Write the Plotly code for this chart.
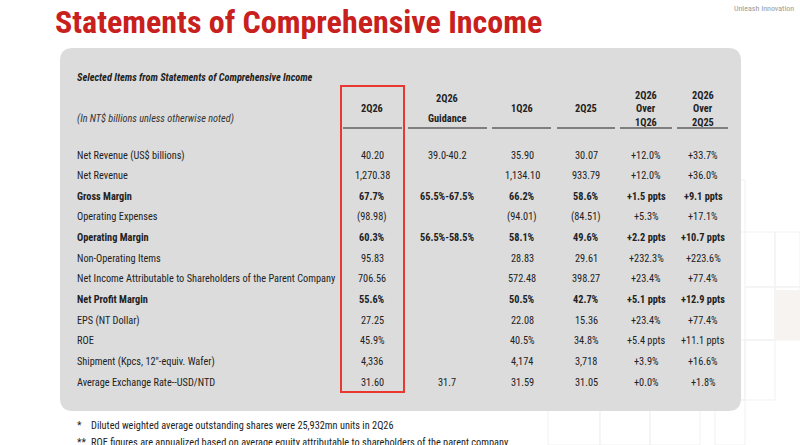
import plotly.graph_objects as go

# ---------------- data ----------------
title = "Statements of Comprehensive Income"
subtitle = "Selected Items from Statements of Comprehensive Income"
unit_note = "(In NT$ billions unless otherwise noted)"
brand = "Unleash Innovation"

col_headers = [["2Q26"], ["2Q26", "Guidance"], ["1Q26"], ["2Q25"], ["2Q26", "Over", "1Q26"], ["2Q26", "Over", "2Q25"]]

row_labels = [
    "Net Revenue (US$ billions)",
    "Net Revenue",
    "Gross Margin",
    "Operating Expenses",
    "Operating Margin",
    "Non-Operating Items",
    "Net Income Attributable to Shareholders of the Parent Company",
    "Net Profit Margin",
    "EPS (NT Dollar)",
    "ROE",
    "Shipment (Kpcs, 12\"-equiv. Wafer)",
    "Average Exchange Rate--USD/NTD",
]
bold_rows = ["Gross Margin", "Operating Margin", "Net Profit Margin"]

q2_26 = ["40.20", "1,270.38", "67.7%", "(98.98)", "60.3%", "95.83", "706.56", "55.6%", "27.25", "45.9%", "4,336", "31.60"]
guidance = ["39.0-40.2", "", "65.5%-67.5%", "", "56.5%-58.5%", "", "", "", "", "", "", "31.7"]
q1_26 = ["35.90", "1,134.10", "66.2%", "(94.01)", "58.1%", "28.83", "572.48", "50.5%", "22.08", "40.5%", "4,174", "31.59"]
q2_25 = ["30.07", "933.79", "58.6%", "(84.51)", "49.6%", "29.61", "398.27", "42.7%", "15.36", "34.8%", "3,718", "31.05"]
qoq = ["+12.0%", "+12.0%", "+1.5 ppts", "+5.3%", "+2.2 ppts", "+232.3%", "+23.4%", "+5.1 ppts", "+23.4%", "+5.4 ppts", "+3.9%", "+0.0%"]
yoy = ["+33.7%", "+36.0%", "+9.1 ppts", "+17.1%", "+10.7 ppts", "+223.6%", "+77.4%", "+12.9 ppts", "+77.4%", "+11.1 ppts", "+16.6%", "+1.8%"]

footnotes = [
    ("*", "Diluted weighted average outstanding shares were 25,932mn units in 2Q26"),
    ("**", "ROE figures are annualized based on average equity attributable to shareholders of the parent company"),
]

# ---------------- layout (positions/styles) ----------------
W, H = 800, 445
FONT = "Roboto Condensed, Liberation Sans Narrow, Arial Narrow, sans-serif"
TXT = "#222222"
col_x = [372, 447, 522, 586, 646, 703]
col_line = [(343, 402), (408, 487), (492, 551), (557, 615), (620, 672), (677, 728)]
header_y = {1: [108], 2: [98, 118.5], 3: [95, 108.5, 122]}
label_x = 75
row_y0, row_dy = 155, 20.65
fs = 10.3

fig = go.Figure()
fig.add_trace(go.Scatter(x=[0, W], y=[0, H], mode="markers", marker=dict(opacity=0), hoverinfo="skip", showlegend=False))

shapes = []
# faint background grid squares
grid = [(715, 180, 745, 232), (745, 232, 775, 287), (775, 232, 800, 287), (745, 287, 775, 340),
        (775, 287, 800, 340), (715, 340, 745, 400), (745, 340, 775, 400), (715, 400, 745, 445),
        (548, 410, 600, 445), (600, 410, 650, 445), (650, 410, 700, 445)]
for (x0, y0, x1, y1) in grid:
    shapes.append(dict(type="rect", xref="x", yref="y", x0=x0, y0=y0, x1=x1, y1=y1,
                       line=dict(color="#f1f1f1", width=1), fillcolor="rgba(0,0,0,0)", layer="below"))
shapes.append(dict(type="rect", xref="x", yref="y", x0=776, y0=290, x1=800, y1=340,
                   line=dict(width=0), fillcolor="#f6f3f1", layer="below"))

# rounded grey panel
bx0, by0, bx1, by1, r = 60, 48, 741, 411, 13
path = (f"M {bx0+r},{by0} L {bx1-r},{by0} Q {bx1},{by0} {bx1},{by0+r} "
        f"L {bx1},{by1-r} Q {bx1},{by1} {bx1-r},{by1} L {bx0+r},{by1} Q {bx0},{by1} {bx0},{by1-r} "
        f"L {bx0},{by0+r} Q {bx0},{by0} {bx0+r},{by0} Z")
shapes.append(dict(type="path", xref="x", yref="y", path=path, fillcolor="#dcdcdc", line=dict(width=0), layer="below"))

# header underlines
for (a, b) in col_line:
    shapes.append(dict(type="line", xref="x", yref="y", x0=a, x1=b, y0=128, y1=128, line=dict(color="#222222", width=1.2)))

# red highlight box
shapes.append(dict(type="rect", xref="x", yref="y", x0=341, y0=86, x1=404, y1=392,
                   line=dict(color="#e8382f", width=2), fillcolor="rgba(0,0,0,0)"))

ann = []
ann.append(dict(x=53, y=0.5, text=f"<b>{title}</b>", xanchor="left", yanchor="top", showarrow=False,
                font=dict(family=FONT, size=32, color="#c8201c")))
ann.append(dict(x=796, y=8, text=brand, xanchor="right", yanchor="middle", showarrow=False,
                font=dict(family=FONT, size=8, color="#9a9a9a")))
ann.append(dict(x=label_x, y=77, text=f"<b><i>{subtitle}</i></b>", xanchor="left", yanchor="middle", showarrow=False,
                font=dict(family=FONT, size=fs, color=TXT)))
ann.append(dict(x=label_x, y=118, text=f"<i>{unit_note}</i>", xanchor="left", yanchor="middle", showarrow=False,
                font=dict(family=FONT, size=fs, color="#333333")))
for i, lines in enumerate(col_headers):
    for ln, yy in zip(lines, header_y[len(lines)]):
        ann.append(dict(x=col_x[i], y=yy, text=f"<b>{ln}</b>", xanchor="center", yanchor="middle", showarrow=False,
                        font=dict(family=FONT, size=fs, color=TXT)))

cols = [q2_26, guidance, q1_26, q2_25, qoq, yoy]
for r_i, lab in enumerate(row_labels):
    y = row_y0 + r_i * row_dy
    b = lab in bold_rows
    wrap = (lambda s: f"<b>{s}</b>") if b else (lambda s: s)
    ann.append(dict(x=label_x, y=y, text=wrap(lab), xanchor="left", yanchor="middle", showarrow=False,
                    font=dict(family=FONT, size=fs, color=TXT)))
    for c_i, col in enumerate(cols):
        if col[r_i]:
            ann.append(dict(x=col_x[c_i], y=y, text=wrap(col[r_i]), xanchor="center", yanchor="middle",
                            showarrow=False, font=dict(family=FONT, size=fs, color=TXT)))

for k, (mark, txt) in enumerate(footnotes):
    y = 425 + k * 17.5
    ann.append(dict(x=label_x, y=y, text=mark, xanchor="left", yanchor="middle", showarrow=False,
                    font=dict(family=FONT, size=fs, color=TXT)))
    ann.append(dict(x=89, y=y, text=txt, xanchor="left", yanchor="middle", showarrow=False,
                    font=dict(family=FONT, size=fs, color=TXT)))

fig.update_layout(
    width=W, height=H, margin=dict(l=0, r=0, t=0, b=0),
    paper_bgcolor="white", plot_bgcolor="white",
    xaxis=dict(range=[0, W], visible=False, fixedrange=True),
    yaxis=dict(range=[H, 0], visible=False, fixedrange=True),
    shapes=shapes, annotations=ann, showlegend=False,
)
fig.write_html("out.html", config={"displayModeBar": False},
               post_script="document.body.style.margin='0';")
